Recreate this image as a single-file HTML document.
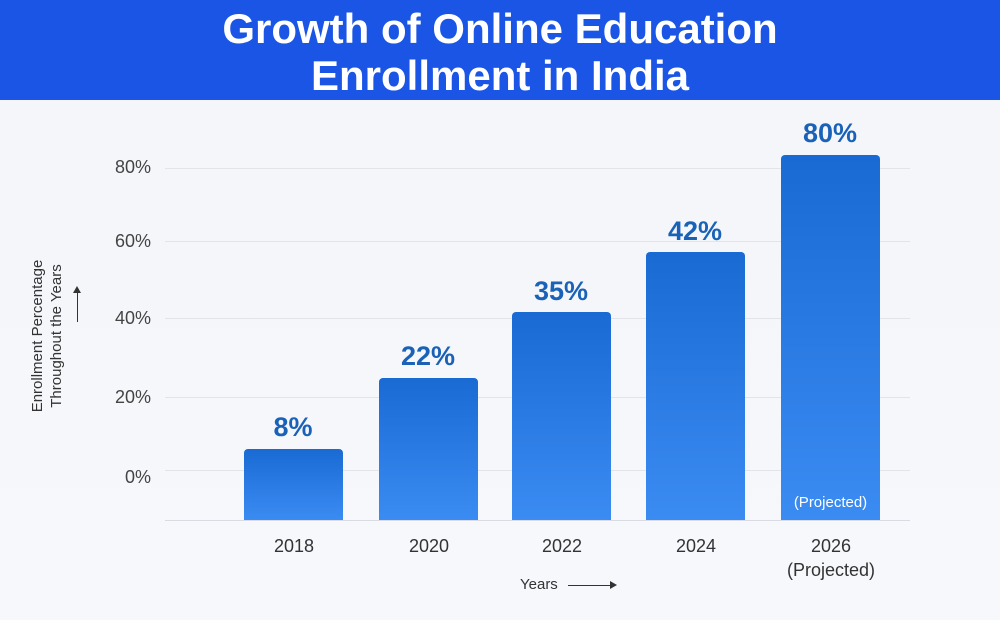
<!DOCTYPE html>
<html><head><meta charset="utf-8"><style>
body{margin:0;width:1000px;height:620px;overflow:hidden;background:linear-gradient(180deg,#f3f5fa,#f7f8fb);font-family:"Liberation Sans",sans-serif;position:relative}
.hdr{position:absolute;left:0;top:0;width:1000px;height:100px;background:#1a55e6;color:#fff;text-align:center;font-weight:bold;font-size:42px;line-height:47px;padding-top:5px;box-sizing:border-box}
.g{position:absolute;left:165px;width:745px;height:1px;background:#e2e4ea}
.yl{position:absolute;left:95px;width:56px;text-align:right;font-size:18px;color:#444}
.bar{position:absolute;width:99px;bottom:100px;border-radius:4px 4px 0 0;background:linear-gradient(180deg,#1a6ad4,#3a8bf2)}
.v{position:absolute;width:120px;text-align:center;font-weight:bold;font-size:27px;color:#1a62b8}
.xl{position:absolute;width:140px;text-align:center;font-size:18px;color:#333;top:534px;line-height:24px}
</style></head><body>
<div class="hdr">Growth of Online Education<br>Enrollment in India</div>
<div class="g" style="top:168px"></div>
<div class="g" style="top:241px"></div>
<div class="g" style="top:318px"></div>
<div class="g" style="top:397px"></div>
<div class="g" style="top:470px"></div>
<div class="g" style="top:520px;background:#d8dbe2"></div>
<div class="yl" style="top:157px">80%</div>
<div class="yl" style="top:231px">60%</div>
<div class="yl" style="top:308px">40%</div>
<div class="yl" style="top:387px">20%</div>
<div class="yl" style="top:467px">0%</div>
<div class="bar" style="left:244px;top:449px"></div>
<div class="bar" style="left:379px;top:378px"></div>
<div class="bar" style="left:512px;top:312px"></div>
<div class="bar" style="left:646px;top:252px"></div>
<div class="bar" style="left:781px;top:155px"></div>
<div style="position:absolute;left:781px;top:494px;width:99px;text-align:center;color:#fff;font-size:15px">(Projected)</div>
<div class="v" style="left:233px;top:412px">8%</div>
<div class="v" style="left:368px;top:341px">22%</div>
<div class="v" style="left:501px;top:276px">35%</div>
<div class="v" style="left:635px;top:216px">42%</div>
<div class="v" style="left:770px;top:118px">80%</div>
<div class="xl" style="left:224px">2018</div>
<div class="xl" style="left:359px">2020</div>
<div class="xl" style="left:492px">2022</div>
<div class="xl" style="left:626px">2024</div>
<div class="xl" style="left:761px">2026<br>(Projected)</div>
<div style="position:absolute;left:520px;top:576px;font-size:15px;color:#333">Years</div>
<div style="position:absolute;left:568px;top:585px;width:46px;height:1px;background:#333"></div>
<div style="position:absolute;left:610px;top:581px;border-left:7px solid #333;border-top:4px solid transparent;border-bottom:4px solid transparent"></div>
<div style="position:absolute;left:47px;top:317px;width:200px;margin-left:-100px;transform:rotate(-90deg);text-align:center;font-size:15px;color:#333;line-height:19px">Enrollment Percentage<br>Throughout the Years</div>
<div style="position:absolute;left:77px;top:292px;width:1px;height:30px;background:#333"></div>
<div style="position:absolute;left:73px;top:286px;border-bottom:7px solid #333;border-left:4px solid transparent;border-right:4px solid transparent"></div>
</body></html>
